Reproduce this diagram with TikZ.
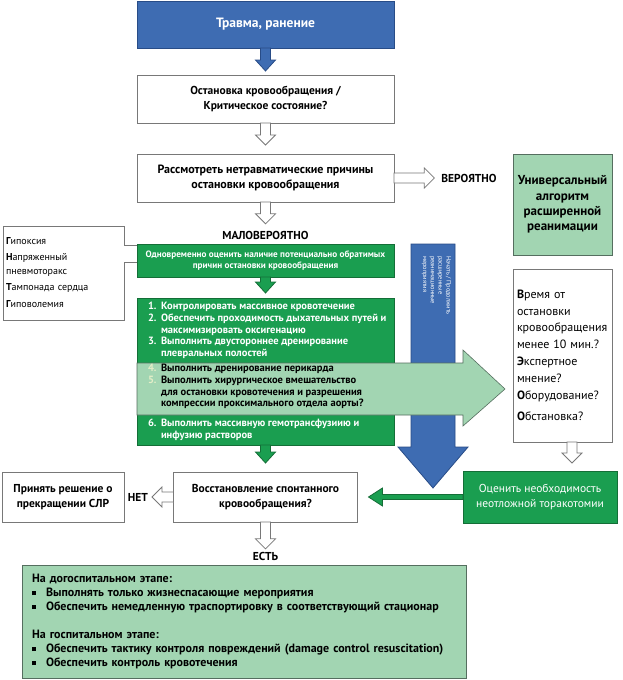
\documentclass[tikz,border=0pt]{standalone}
\usepackage{fontspec}
\setmainfont{PT Sans}
\usepackage{xcolor}
\usetikzlibrary{calc}

\definecolor{acblue}{RGB}{62,108,178}
\definecolor{acblueline}{RGB}{40,76,135}
\definecolor{acgreen}{RGB}{26,158,80}
\definecolor{acgreenline}{RGB}{20,110,55}
\definecolor{acpale}{RGB}{162,213,178}
\definecolor{acpaleline}{RGB}{85,110,95}
\definecolor{boxline}{RGB}{120,120,120}
\definecolor{numpale}{RGB}{228,238,200}

\newcommand{\boxfont}{\fontsize{11.5}{15}\selectfont\bfseries}
\newcommand{\stepnum}[1]{\makebox[13pt][l]{#1}}
\newcommand{\sqbullet}{\raisebox{1.5pt}{\rule{4pt}{4pt}}\hspace{10pt}}

% block arrow: [style]{from}{to}{shaft half}{head half}{head length}
\newcommand{\blockarrow}[6][]{%
  \coordinate (ba-s) at (#2);
  \coordinate (ba-t) at (#3);
  \coordinate (ba-h) at ($(ba-t)!#6!(ba-s)$);
  \filldraw[#1] ($(ba-s)!#4!90:(ba-t)$) -- ($(ba-h)!#4!90:(ba-t)$) -- ($(ba-h)!#5!90:(ba-t)$) -- (ba-t)
    -- ($(ba-h)!#5!-90:(ba-t)$) -- ($(ba-h)!#4!-90:(ba-t)$) -- ($(ba-s)!#4!-90:(ba-t)$) -- cycle;
}

\begin{document}
\begin{tikzpicture}[x=1pt, y=-1pt, line width=0.8pt,
    every node/.style={inner sep=0pt, outer sep=0pt},
    whitebox/.style={draw=boxline, fill=white, align=center, font=\boxfont},
    bluebox/.style={draw=acblueline, fill=acblue, text=white, align=center, font=\fontsize{13.5}{15}\selectfont\bfseries},
    greenbox/.style={draw=acgreenline, fill=acgreen, text=white, align=center},
    palebox/.style={draw=acpaleline, fill=acpale, align=center},
    answer/.style={font=\boxfont},
    hollow/.style={draw=boxline, fill=white},
    bluearrow/.style={draw=acblueline, fill=acblue},
    greenarrow/.style={draw=acgreenline, fill=acgreen}]

    \fill[white] (0,0) rectangle (622,680);
    \useasboundingbox (0,0) rectangle (622,680);

    % Start
    \node[bluebox, minimum width=257pt, minimum height=47pt] (trauma) at (265.5,24.5) {Травма, ранение};
    \node[whitebox, minimum width=257pt, minimum height=48pt] (arrest) at (265.5,99) {Остановка кровообращения /\\Критическое состояние?};
    \node[whitebox, font=\fontsize{12}{15}\selectfont\bfseries, minimum width=257pt, minimum height=48pt] (nontrauma) at (265.5,178) {Рассмотреть нетравматические причины\\остановки кровообращения};

    % Likely
    \node[answer] (likely) at (469,178) {ВЕРОЯТНО};
    \node[palebox, font=\fontsize{13}{15.2}\selectfont\bfseries, minimum width=99pt, minimum height=101pt] (acls) at (562.5,204.5) {Универсальный\\алгоритм\\расширенной\\реанимации};

    % Unlikely
    \node[answer] (unlikely) at (265.5,235) {МАЛОВЕРОЯТНО};
    \node[greenbox, font=\fontsize{9.2}{11.5}\selectfont\bfseries, minimum width=257pt, minimum height=33pt] (reassess) at (265.5,260.5) {Одновременно оценить наличие потенциально обратимых\\причин остановки кровообращения};

    % Causes
    \node[text width=115pt, align=left, minimum height=94pt, inner xsep=3pt, font=\fontsize{10}{14}\selectfont] (hypo) at (63.5,273)
        {\textbf{Г}ипоксия\\[2pt]\textbf{Н}апряженный\\пневмоторакс\\[2pt]\textbf{Т}ампонада сердца\\[3pt]\textbf{Г}иповолемия};
    \draw[boxline] ($(hypo.north east)+(0,19)$) coordinate (hp1) -- (hypo.north east) -- (hypo.north west) -- (hypo.south west)
        -- (hypo.south east) -- ($(hypo.north east)+(0,36)$) coordinate (hp2) -- (hp2 -| reassess.west);
    \draw[boxline] (hp1) -- (hp1 -| reassess.west);

    % Steps
    \node[greenbox, minimum width=257pt, minimum height=147pt] (steps) at (265.5,371.5) {};

    % Decision
    \node[whitebox, font=\fontsize{12}{16.5}\selectfont, text width=91pt, inner xsep=4pt, align=left, minimum height=173pt] (time) at (562.5,355.5)
        {\textbf{В}ремя от\\остановки\\кровообращения\\менее 10 мин.?\\[1pt]\textbf{Э}кспертное\\мнение?\\[1pt]\textbf{О}борудование?\\[4pt]\textbf{О}бстановка?};
    \node[greenbox, font=\fontsize{11.5}{15}\selectfont, minimum width=154pt, minimum height=52pt] (thoracotomy) at (540,497) {Оценить необходимость\\неотложной торакотомии};

    % ROSC
    \node[whitebox, minimum width=184pt, minimum height=50pt] (recovery) at (265.5,497) {Восстановление спонтанного\\кровообращения?};
    \node[answer] (no) at (138,497) {НЕТ};
    \node[whitebox, minimum width=122pt, minimum height=50pt] (stop) at (63,497) {Принять решение о\\прекращении СЛР};
    \node[answer] (yes) at (265.5,556) {ЕСТЬ};
    \node[palebox, text width=424pt, inner xsep=10pt, align=left, minimum height=113pt, font=\fontsize{12}{14}\selectfont\bfseries] (final) at (244,621.5)
        {На догоспитальном этапе:\\
         \sqbullet Выполнять только жизнеспасающие мероприятия\\
         \sqbullet Обеспечить немедленную траспортировку в соответствующий стационар\\[14pt]
         На госпитальном этапе:\\
         \sqbullet Обеспечить тактику контроля повреждений (damage control resuscitation)\\
         \sqbullet Обеспечить контроль кровотечения};

    % Arrows
    \blockarrow[bluearrow]{trauma.south}{$(arrest.north)+(0,-4)$}{5pt}{10pt}{11pt}
    \blockarrow[hollow]{arrest.south}{$(nontrauma.north)+(0,-9)$}{5pt}{10pt}{10pt}
    \blockarrow[hollow]{nontrauma.east}{$(nontrauma.east -| likely.west)+(-7,0)$}{5pt}{10pt}{10pt}
    \blockarrow[hollow]{nontrauma.south}{$(unlikely.north)+(0,-7)$}{5pt}{10pt}{10pt}
    \blockarrow[greenarrow]{reassess.south}{$(steps.north)+(0,-5)$}{5pt}{10pt}{11pt}
    \blockarrow[greenarrow]{steps.south}{$(recovery.north)+(0,-9)$}{5pt}{10pt}{11pt}
    \blockarrow[hollow]{recovery.west}{$(no.east)+(4,0)$}{5pt}{10pt}{10pt}
    \blockarrow[hollow]{recovery.south}{$(yes.north)+(0,-3)$}{5pt}{10pt}{10pt}
    \blockarrow[greenarrow]{thoracotomy.west}{$(recovery.east)+(11,0)$}{2.5pt}{9pt}{14pt}
    \coordinate (tt) at ($(time.south)+(9.5,0)$);
    \blockarrow[hollow]{tt}{$(tt |- thoracotomy.north)+(0,-8)$}{5pt}{10pt}{10pt}

    % Advanced life support
    \coordinate (acls-top) at (433,244);
    \coordinate (acls-tip) at (433,488);
    \blockarrow[bluearrow]{acls-top}{acls-tip}{22pt}{35pt}{41pt}
    \node[rotate=-90, anchor=north west, align=left, text=white, font=\fontsize{6.3}{7.8}\selectfont] (acls-text) at (451,256)
        {Начать / Продолжить\\расширенные\\реанимационные\\мероприятия};

    % Band to decision
    \filldraw[draw=acpaleline, fill=acpale, line width=0.6pt] (137,363) -- (463,363) -- (463,350) -- (505,389) -- (463,426) -- (463,415) -- (137,415) -- cycle;

    % Steps text
    \node[anchor=west, align=left, text=white, font=\fontsize{10.5}{11.7}\selectfont\bfseries] (steps-text) at (148,371.5)
        {\stepnum{1.}Контролировать массивное кровотечение\\
         \stepnum{2.}Обеспечить проходимость дыхательных путей и\\
         \stepnum{}максимизировать оксигенацию\\
         \stepnum{3.}Выполнить двустороннее дренирование\\
         \stepnum{}плевральных полостей\\[3.3pt]
         \textcolor{numpale}{\stepnum{4.}}\textcolor{black}{Выполнить дренирование перикарда}\\
         \textcolor{numpale}{\stepnum{5.}}\textcolor{black}{Выполнить хирургическое вмешательство}\\
         \stepnum{}\textcolor{black}{для остановки кровотечения и разрешения}\\
         \stepnum{}\textcolor{black}{компрессии проксимального отдела аорты?}\\[8.4pt]
         \stepnum{6.}Выполнить массивную гемотрансфузиию и\\
         \stepnum{}инфузию растворов};
\end{tikzpicture}
\end{document}
